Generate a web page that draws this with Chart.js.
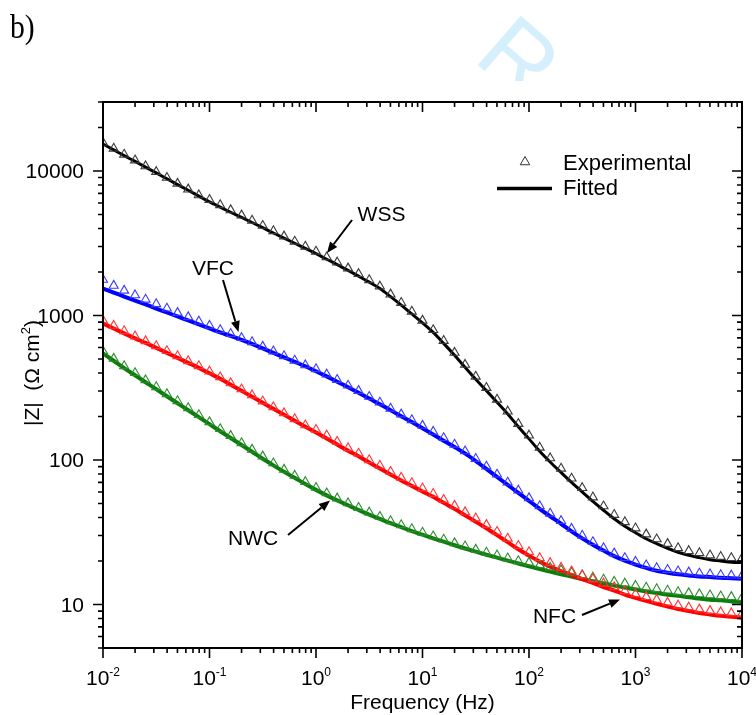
<!DOCTYPE html>
<html>
<head>
<meta charset="utf-8">
<script src="https://cdn.jsdelivr.net/npm/chart.js@4.4.0/dist/chart.umd.min.js"></script>
<style>
  html, body { margin: 0; padding: 0; background: #fff; }
  canvas { display: block; }
</style>
</head>
<body>
<canvas id="impedance" width="756" height="715"></canvas>
<script>
// measurement frequencies (Hz), 10 per decade
const frequency = [
  0.01, 0.0126, 0.0158, 0.02, 0.0251, 0.0316, 0.0398, 0.0501, 0.0631, 0.0794,
  0.1, 0.126, 0.158, 0.2, 0.251, 0.316, 0.398, 0.501, 0.631, 0.794,
  1, 1.26, 1.58, 2, 2.51, 3.16, 3.98, 5.01, 6.31, 7.94,
  10, 12.6, 15.8, 20, 25.1, 31.6, 39.8, 50.1, 63.1, 79.4,
  100, 126, 158, 200, 251, 316, 398, 501, 631, 794,
  1000, 1260, 1580, 2000, 2510, 3160, 3980, 5010, 6310, 7940, 10000
];

// |Z| in ohm cm2
const wssExp = [
  15700, 14300, 13000, 11850, 10800, 9850, 8980, 8180, 7460, 6800,
  6320, 5810, 5360, 4930, 4540, 4180, 3840, 3530, 3250, 3000,
  2770, 2530, 2330, 2120, 1940, 1760, 1590, 1400, 1225, 1065,
  922, 794, 668, 553, 457, 378, 316, 262, 217, 178,
  148, 122, 103, 87.3, 74.5, 64.1, 55.2, 47.9, 41.8, 37.2,
  33.7, 30.6, 28.3, 26.3, 24.6, 23.5, 22.7, 21.9, 21.4, 21.0, 20.9
];
const wssFit = [
  15350, 14000, 12760, 11640, 10620, 9690, 8830, 8050, 7350, 6700,
  6110, 5620, 5180, 4770, 4400, 4050, 3720, 3430, 3160, 2910,
  2680, 2450, 2250, 2050, 1870, 1700, 1535, 1350, 1180, 1025,
  888, 763, 641, 530, 438, 362, 302, 251, 208, 170,
  140, 115, 96.9, 82.0, 70.0, 60.1, 51.7, 44.9, 39.2, 34.8,
  31.4, 28.5, 26.4, 24.5, 23.0, 21.9, 21.1, 20.4, 20.0, 19.6, 19.5
];
const vfcExp = [
  1770, 1610, 1487, 1382, 1290, 1200, 1118, 1043, 975, 910,
  850, 794, 747, 700, 655, 609, 565, 524, 488, 453,
  426, 391, 359, 328, 301, 274, 250, 227, 207, 189,
  173, 157, 142, 128, 115, 102, 90.2, 79.4, 69.9, 61.6,
  54.5, 48.0, 42.6, 37.9, 33.5, 30.0, 27.1, 24.6, 22.6, 21.0,
  19.8, 18.7, 17.9, 17.4, 17.0, 16.7, 16.4, 16.2, 16.0, 15.9, 15.8
];
const vfcFit = [
  1535, 1441, 1352, 1268, 1191, 1117, 1049, 984, 924, 867,
  813, 763, 722, 678, 636, 592, 551, 513, 478, 445,
  411, 379, 348, 319, 292, 266, 243, 221, 201, 183,
  166, 150, 136, 123, 111, 98.4, 86.7, 76.3, 67.2, 59.2,
  52.2, 45.9, 40.8, 36.2, 32.1, 28.7, 25.9, 23.6, 21.6, 20.1,
  18.9, 17.9, 17.1, 16.6, 16.2, 15.9, 15.6, 15.5, 15.3, 15.2, 15.1
];
const nfcExp = [
  925, 850, 781, 718, 665, 615, 568, 524, 484, 447,
  410, 374, 340, 309, 281, 255, 232, 211, 192, 174,
  162, 148, 134, 121, 111, 100, 91.4, 83.0, 75.5, 69.3,
  63.7, 58.4, 53.1, 48.3, 43.6, 39.5, 35.6, 31.9, 28.6, 25.5,
  23.1, 21.0, 19.4, 18.0, 17.0, 15.9, 15.0, 14.0, 13.2, 12.4,
  11.8, 11.3, 10.8, 10.3, 9.86, 9.55, 9.26, 9.04, 8.85, 8.71, 8.61
];
const nfcFit = [
  881, 813, 751, 694, 646, 597, 551, 509, 470, 434,
  398, 365, 332, 301, 274, 249, 226, 206, 187, 170,
  155, 141, 128, 116, 106, 96.1, 87.4, 79.4, 72.2, 66.2,
  60.6, 55.6, 50.5, 45.9, 41.4, 37.4, 33.7, 30.2, 27.0, 24.1,
  21.8, 19.8, 18.3, 17.0, 16.0, 15.0, 14.1, 13.2, 12.5, 11.7,
  11.1, 10.6, 10.1, 9.69, 9.31, 9.02, 8.73, 8.53, 8.35, 8.22, 8.13
];
const nwcExp = [
  566, 503, 447, 400, 357, 320, 286, 256, 229, 205,
  183, 164, 147, 131, 118, 106, 95.0, 85.8, 77.9, 70.5,
  64.3, 58.9, 54.3, 50.3, 46.7, 43.4, 40.5, 37.8, 35.5, 33.3,
  31.5, 29.7, 28.2, 26.6, 25.3, 24.0, 22.9, 21.9, 20.9, 20.0,
  19.5, 18.7, 18.0, 17.3, 16.6, 16.0, 15.4, 14.9, 14.4, 14.0,
  13.5, 13.1, 12.8, 12.5, 12.2, 12.0, 11.8, 11.6, 11.4, 11.3, 11.1
];
const nwcFit = [
  547, 486, 432, 386, 345, 309, 276, 247, 221, 198,
  177, 158, 142, 127, 114, 102, 91.8, 82.9, 75.3, 68.1,
  62.1, 56.9, 52.5, 48.6, 45.1, 41.9, 39.1, 36.5, 34.3, 32.2,
  30.4, 28.7, 27.2, 25.7, 24.4, 23.2, 22.1, 21.1, 20.1, 19.2,
  18.4, 17.6, 16.9, 16.2, 15.6, 15.0, 14.5, 14.0, 13.5, 13.1,
  12.7, 12.3, 12.0, 11.7, 11.5, 11.2, 11.0, 10.8, 10.7, 10.5, 10.4
];

// axis labels
const xExponents = [-2, -1, 0, 1, 2, 3, 4];
const yLabels = [10, 100, 1000, 10000];

const FONT = '"Liberation Sans", Arial, Helvetica, sans-serif';

const pts = (arr) => frequency.map((f, i) => ({ x: f, y: arr[i] }));

function expSet(label, arr, color) {
  return {
    label: label,
    data: pts(arr),
    showLine: false,
    pointStyle: 'triangle',
    pointRadius: 5.2,
    pointBorderWidth: 1.1,
    pointBorderColor: color,
    pointBackgroundColor: 'rgba(0,0,0,0)',
    clip: 0,
    order: 0
  };
}
function fitSet(label, arr, color, width) {
  return {
    label: label,
    data: pts(arr),
    borderColor: color,
    borderWidth: width,
    pointRadius: 0,
    cubicInterpolationMode: 'monotone',
    fill: false,
    clip: 0,
    order: 1
  };
}

function arrow(ctx, x1, y1, x2, y2) {
  const ang = Math.atan2(y2 - y1, x2 - x1);
  const len = 11, half = 4.5;
  const bx = x2 - len * Math.cos(ang), by = y2 - len * Math.sin(ang);
  ctx.beginPath();
  ctx.moveTo(x1, y1);
  ctx.lineTo(bx, by);
  ctx.stroke();
  ctx.beginPath();
  ctx.moveTo(x2, y2);
  ctx.lineTo(bx + half * Math.sin(ang), by - half * Math.cos(ang));
  ctx.lineTo(bx - half * Math.sin(ang), by + half * Math.cos(ang));
  ctx.closePath();
  ctx.fill();
}

const decorations = {
  id: 'decorations',
  beforeDraw(chart) {
    const ctx = chart.ctx;
    ctx.save();
    ctx.fillStyle = '#fff';
    ctx.fillRect(0, 0, chart.width, chart.height);

    // pale diagonal watermark letter, cut off by the figure box
    ctx.save();
    ctx.beginPath();
    ctx.rect(0, 0, chart.width, 81);
    ctx.clip();
    ctx.translate(472, 60);
    ctx.rotate(41 * Math.PI / 180);
    ctx.font = '95px ' + FONT;
    ctx.fillStyle = '#d5effc';
    ctx.fillText('R', 0, 0);
    ctx.restore();

    // panel letter
    ctx.translate(10, 38);
    ctx.scale(0.9, 1);
    ctx.font = '33px "Liberation Serif", "Times New Roman", serif';
    ctx.fillStyle = '#000';
    ctx.fillText('b)', 0, 0);
    ctx.restore();
  },
  afterDraw(chart) {
    const ctx = chart.ctx;
    const a = chart.chartArea;
    const xs = chart.scales.x, ys = chart.scales.y;
    ctx.save();
    ctx.strokeStyle = '#000';
    ctx.fillStyle = '#000';
    ctx.lineWidth = 2;
    ctx.strokeRect(a.left, a.top, a.right - a.left, a.bottom - a.top);

    // tick marks: outward on bottom/left, inward on top/right
    ctx.lineWidth = 1.6;
    ctx.beginPath();
    for (let e = -2; e <= 4; e++) {
      for (let m = 1; m <= 9; m++) {
        const v = m * Math.pow(10, e);
        if (v > 10000.5) break;
        const px = xs.getPixelForValue(v);
        const len = m === 1 ? 10 : 5;
        ctx.moveTo(px, a.bottom); ctx.lineTo(px, a.bottom + len);
        ctx.moveTo(px, a.top); ctx.lineTo(px, a.top + len);
      }
    }
    for (let e = 0; e <= 4; e++) {
      for (let m = 1; m <= 9; m++) {
        const v = m * Math.pow(10, e);
        if (v < 5 || v > 30000.5) continue;
        const py = ys.getPixelForValue(v);
        const len = m === 1 ? 10 : 5;
        ctx.moveTo(a.left, py); ctx.lineTo(a.left - len, py);
        ctx.moveTo(a.right, py); ctx.lineTo(a.right - len, py);
      }
    }
    ctx.stroke();

    // y tick labels
    ctx.font = '21px ' + FONT;
    ctx.textAlign = 'right';
    ctx.textBaseline = 'alphabetic';
    yLabels.forEach(v => {
      ctx.fillText(String(v), 84, ys.getPixelForValue(v) + 7.5);
    });

    // x tick labels as powers of ten
    ctx.textAlign = 'left';
    xExponents.forEach(e => {
      const px = xs.getPixelForValue(Math.pow(10, e));
      ctx.font = '21px ' + FONT;
      const wb = ctx.measureText('10').width;
      ctx.font = '12px ' + FONT;
      const sup = String(e);
      const ws = ctx.measureText(sup).width;
      const x0 = px - (wb + ws) / 2;
      ctx.font = '21px ' + FONT;
      ctx.fillText('10', x0, 685);
      ctx.font = '12px ' + FONT;
      ctx.fillText(sup, x0 + wb, 676);
    });

    // axis titles
    ctx.font = '21px ' + FONT;
    ctx.textAlign = 'center';
    ctx.fillText('Frequency (Hz)', (a.left + a.right) / 2, 709);

    ctx.save();
    ctx.translate(39, (a.top + a.bottom) / 2 - 2);
    ctx.rotate(-Math.PI / 2);
    ctx.textAlign = 'left';
    ctx.font = '21px ' + FONT;
    const t1 = '|Z|  (\u03A9 cm', t2 = ')';
    const w1 = ctx.measureText(t1).width, w2 = ctx.measureText(t2).width;
    ctx.font = '13px ' + FONT;
    const ws2 = ctx.measureText('2').width;
    let x0 = -(w1 + ws2 + w2) / 2;
    ctx.font = '21px ' + FONT;
    ctx.fillText(t1, x0, 0);
    ctx.font = '13px ' + FONT;
    ctx.fillText('2', x0 + w1, -9);
    ctx.font = '21px ' + FONT;
    ctx.fillText(t2, x0 + w1 + ws2, 0);
    ctx.restore();

    // legend
    ctx.lineWidth = 1;
    ctx.strokeStyle = '#333';
    const tx = 525, ty = 162, r = 5.5;
    ctx.beginPath();
    ctx.moveTo(tx, ty - r);
    ctx.lineTo(tx + r * Math.sin(2 * Math.PI / 3), ty + r / 2);
    ctx.lineTo(tx - r * Math.sin(2 * Math.PI / 3), ty + r / 2);
    ctx.closePath();
    ctx.stroke();
    ctx.strokeStyle = '#000';
    ctx.lineWidth = 3.5;
    ctx.beginPath();
    ctx.moveTo(497, 188.5);
    ctx.lineTo(552, 188.5);
    ctx.stroke();
    ctx.font = '22px ' + FONT;
    ctx.textAlign = 'left';
    ctx.fillText('Experimental', 563, 169.5);
    ctx.fillText('Fitted', 563, 195);

    // sample labels with pointers
    ctx.font = '21px ' + FONT;
    ctx.textAlign = 'center';
    ctx.fillText('WSS', 381.5, 220.5);
    ctx.fillText('VFC', 213, 275);
    ctx.fillText('NWC', 253, 545);
    ctx.fillText('NFC', 554.5, 623);
    ctx.lineWidth = 2;
    arrow(ctx, 352, 220, 327, 253);
    arrow(ctx, 223, 280, 238.5, 332);
    arrow(ctx, 288, 535, 330, 500.5);
    arrow(ctx, 582, 615, 620, 599.5);
    ctx.restore();
  }
};

new Chart(document.getElementById('impedance').getContext('2d'), {
  type: 'line',
  data: {
    datasets: [
      expSet('WSS', wssExp, '#3a3a3a'),
      expSet('VFC', vfcExp, '#3a3aff'),
      expSet('NFC', nfcExp, '#ff3333'),
      expSet('NWC', nwcExp, '#2e8b2e'),
      fitSet('WSS fit', wssFit, '#000000', 3),
      fitSet('VFC fit', vfcFit, '#0000ff', 4),
      fitSet('NFC fit', nfcFit, '#ff0000', 4),
      fitSet('NWC fit', nwcFit, '#0a7d0a', 4)
    ]
  },
  options: {
    responsive: false,
    animation: false,
    layout: { padding: { left: 103, right: 14, top: 102, bottom: 67 } },
    plugins: { legend: { display: false }, tooltip: { enabled: false } },
    scales: {
      x: { type: 'logarithmic', min: 0.01, max: 10000, display: false },
      y: { type: 'logarithmic', min: 5, max: 30000, display: false }
    }
  },
  plugins: [decorations]
});
</script>
</body>
</html>
